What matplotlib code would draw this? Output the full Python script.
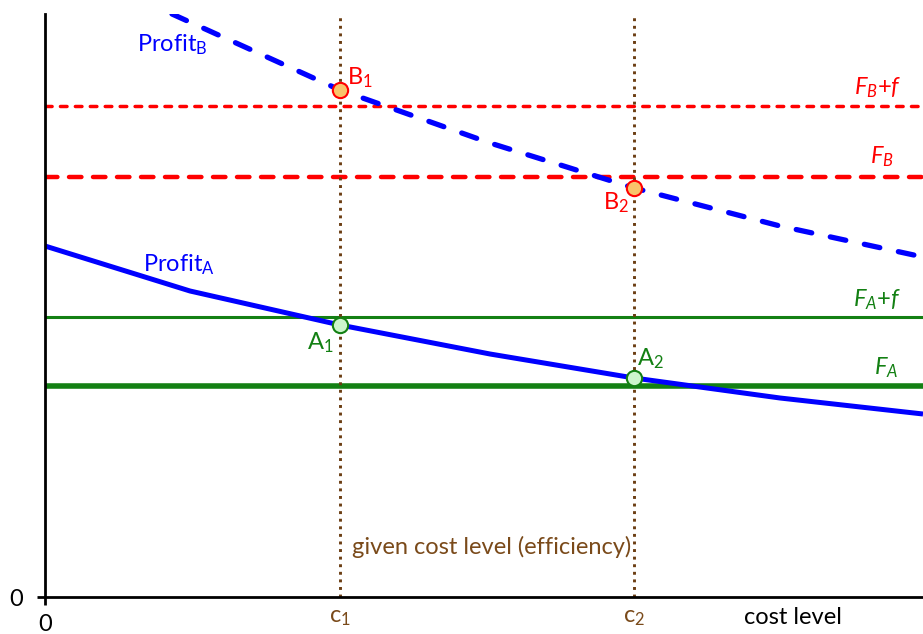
import matplotlib
matplotlib.use("Agg")
import matplotlib.pyplot as plt

plt.rcParams['font.family'] = ['Lato', 'DejaVu Sans']
plt.rcParams['mathtext.fontset'] = 'custom'
plt.rcParams['mathtext.rm'] = 'Lato'
plt.rcParams['mathtext.it'] = 'Lato:italic'

# cost level (x) and values (y)
c1, c2 = 295, 589
profit_a_x = [0, 145, 295, 445, 589, 735, 878]
profit_a_y = [351, 306, 272, 243, 219, 199, 183]
profit_b_x = [127, 295, 445, 589, 735, 878]
profit_b_y = [583, 507, 454, 409, 371, 340]
F_A, F_A_f = 211, 280
F_B, F_B_f = 420, 491
points_a = [272, 219]
points_b = [507, 409]

blue = '#0000ff'
red = '#ff0000'
green = '#138013'
brown = '#7a4a1a'

fig = plt.figure(figsize=(9.23, 6.34), dpi=100)
ax = fig.add_axes([45/923, 37/634, 878/923, 583/634])
ax.set_xlim(0, 878)
ax.set_ylim(0, 583)

# fixed charges
ax.axhline(F_A, color=green, lw=4)
ax.axhline(F_A_f, color=green, lw=2.2)
ax.axhline(F_B, color=red, lw=3.2, linestyle=(0, (2.8, 2.6)), dash_capstyle='round')
ax.axhline(F_B_f, color=red, lw=2.5, linestyle=(0, (1.9, 2.4)), dash_capstyle='round')

# profit curves
ax.plot(profit_a_x, profit_a_y, color=blue, lw=3.6, solid_capstyle='butt')
ax.plot(profit_b_x, profit_b_y, color=blue, lw=3.8, linestyle=(0, (3, 3.6)), dash_capstyle='round')

# given cost levels
for c in (c1, c2):
    ax.plot([c, c], [0, 583], color='#6b3d12', lw=2.1, linestyle=(0, (1, 1.6)), clip_on=False)

ax.plot([c1, c2], points_b, 'o', ms=11, mfc='#f9c46b', mec=red, mew=1.5, zorder=5)
ax.plot([c1, c2], points_a, 'o', ms=11, mfc='#ccf5cc', mec=green, mew=1.5, zorder=5)

# labels
fs = 17
ax.text(92, 552, r'Profit$_\mathregular{B}$', color=blue, fontsize=fs, va='center')
ax.text(98, 332, r'Profit$_\mathregular{A}$', color=blue, fontsize=fs, va='center')
ax.text(302, 519, r'B$_\mathregular{1}$', color=red, fontsize=fs, va='center')
ax.text(584, 394, r'B$_\mathregular{2}$', color=red, fontsize=fs, ha='right', va='center')
ax.text(289, 254, r'A$_\mathregular{1}$', color=green, fontsize=fs, ha='right', va='center')
ax.text(592, 238, r'A$_\mathregular{2}$', color=green, fontsize=fs, va='center')
ax.text(856, 509, r'$F_B$+$f$', color=red, fontsize=fs, ha='right', va='center')
ax.text(849, 440, r'$F_B$', color=red, fontsize=fs, ha='right', va='center')
ax.text(856, 297, r'$F_A$+$f$', color=green, fontsize=fs, ha='right', va='center')
ax.text(853, 229, r'$F_A$', color=green, fontsize=fs, ha='right', va='center')
ax.text(307, 50, 'given cost level (efficiency)', color=brown, fontsize=fs, va='center')
ax.text(c1, -20, r'c$_\mathregular{1}$', color=brown, fontsize=fs, ha='center', va='center')
ax.text(c2, -20, r'c$_\mathregular{2}$', color=brown, fontsize=fs, ha='center', va='center')
ax.text(748, -20, 'cost level', color='black', fontsize=fs, ha='center', va='center')

ax.spines['top'].set_visible(False)
ax.spines['right'].set_visible(False)
ax.spines['left'].set_linewidth(2)
ax.spines['bottom'].set_linewidth(2)
ax.set_xticks([0])
ax.set_yticks([0])
ax.tick_params(length=6, width=2, labelsize=fs, pad=10)
ax.tick_params(axis='x', pad=6)

fig.savefig('out.png', dpi=100)
